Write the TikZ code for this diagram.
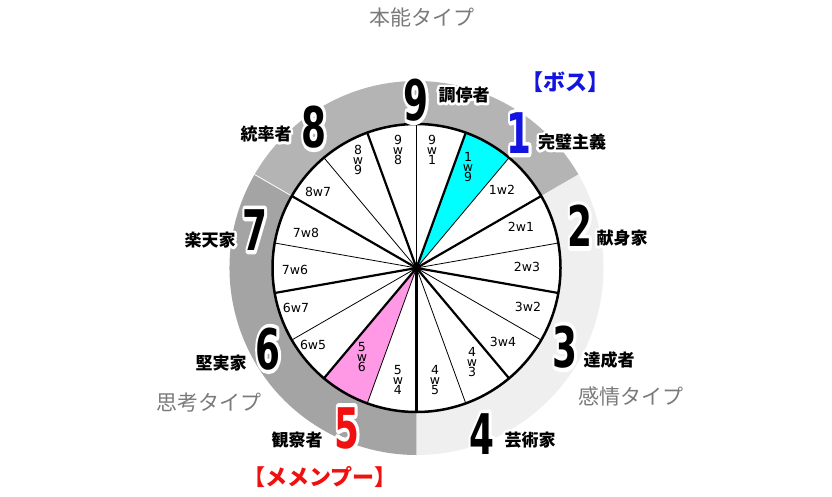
\documentclass[tikz,border=0pt]{standalone}
\usepackage{graphicx}
\usepackage{fontspec}
\usetikzlibrary{positioning}
\newfontfamily\jpfont{Noto Sans CJK JP}
\newfontfamily\wingfont{DejaVu Sans}
\newfontfamily\numfont{DejaVu Sans}
\definecolor{gutgray}{HTML}{B4B4B4}
\definecolor{headgray}{HTML}{A4A4A4}
\definecolor{heartgray}{HTML}{EFEFEF}
\definecolor{winga}{HTML}{00FFFF}
\definecolor{wingb}{HTML}{FF99E6}
\definecolor{bossblue}{HTML}{1414E0}
\definecolor{memred}{HTML}{F01010}
\definecolor{typegray}{HTML}{7A7A7A}

% text with a white outline drawn under it
\newcommand\haloed[2]{\special{pdf:literal direct 1 1 1 RG 1 Tr #1 w 1 j 1 J}\rlap{#2}\special{pdf:literal direct 0 Tr 0 G}#2}

\begin{document}
\begin{tikzpicture}[
			x=1pt, y=1pt,
			num/.style = {font=\numfont\bfseries\fontsize{56}{56}\selectfont, inner sep=0pt},
			role/.style = {font=\jpfont\bfseries\fontsize{17}{17}\selectfont, inner sep=0pt},
			call/.style = {font=\jpfont\bfseries\fontsize{22}{22}\selectfont, inner sep=0pt},
			kind/.style = {font=\jpfont\fontsize{21}{21}\selectfont, text=typegray, inner sep=0pt},
			wing/.style = {font=\wingfont\fontsize{12.5}{10}\selectfont, inner sep=0pt, align=center},
			thickspoke/.style = {line width=2.2pt},
			thinspoke/.style = {line width=0.8pt}
		]
		\useasboundingbox (0,0) rectangle (832,496);
		\coordinate (c) at (416.5,228);
		% Outer ring.
		\fill[gutgray] (c) -- ([shift={(30:187)}]c) arc[start angle=30, end angle=150, radius=187] -- cycle;
		\fill[headgray] (c) -- ([shift={(150:187)}]c) arc[start angle=150, end angle=270, radius=187] -- cycle;
		\fill[heartgray] (c) -- ([shift={(270:187)}]c) arc[start angle=270, end angle=390, radius=187] -- cycle;
		\draw[white, line width=0.8pt] ([shift={(150:144)}]c) -- ([shift={(150:187)}]c);
		% Inner disc.
		\fill[white] (c) circle[radius=144];
		\fill[winga] (c) -- ([shift={(70:144)}]c) arc[start angle=70, end angle=50, radius=144] -- cycle;
		\fill[wingb] (c) -- ([shift={(-110:144)}]c) arc[start angle=-110, end angle=-130, radius=144] -- cycle;
		% Spokes.
		\foreach \a in {70,30,...,-250}
			\draw[thickspoke] (c) -- ([shift={(\a:144)}]c);
		\foreach \a in {90,50,...,-230}
			\draw[thinspoke] (c) -- ([shift={(\a:144)}]c);
		\draw[line width=2.5pt] (c) circle[radius=144];
		% Wings.
		\foreach \a/\r/\t [count=\i] in {42.4/115.7/1w2, 21.4/112.3/2w1, 0.5/110.5/2w3, -19.3/118.1/3w2, -40.5/113.8/3w4, -143.3/129/6w5, -161.6/127/6w7, -179/121.5/7w6, 162.4/115.9/7w8, 142.3/124.4/8w7}
			\node[wing] (h\i) at ([shift={(\a:\r)}]c) {\t};
		\foreach \a/\r/\p/\q [count=\i] in {82.5/119/9/1, 63/113.4/1/9, 98.9/119.4/9/8, 118.4/122.8/8/9, -121.5/104.4/5/6, -99.4/113.5/5/4, -80.6/113.5/4/5, -59.4/109.2/4/3}
			\node[wing] (s\i) at ([shift={(\a:\r)}]c) {\p\\w\\\q};
		% Type numbers.
		\foreach \x/\y/\n/\col in {416/396/9/black, 519/363/1/bossblue, 580/270/2/black, 565/149/3/black, 482/62/4/black, 347/68/5/memred, 268/147/6/black, 255/266/7/black, 314/369/8/black}
			\node[num, text=\col] (n\n) at (\x,\y) {\scalebox{0.64}[1]{\haloed{8}{\n}}};
		% Names.
		\node[role] (r9) at (464,401) {\haloed{5}{調停者}};
		\node[role] (r1) at (572,354) {\haloed{5}{完璧主義}};
		\node[role] (r2) at (622,258) {\haloed{5}{献身家}};
		\node[role] (r3) at (609,136) {\haloed{5}{達成者}};
		\node[role] (r4) at (530,56) {\haloed{5}{芸術家}};
		\node[role] (r5) at (297,56) {\haloed{5}{観察者}};
		\node[role] (r6) at (221,133) {\haloed{5}{堅実家}};
		\node[role] (r7) at (210,256) {\haloed{5}{楽天家}};
		\node[role] (r8) at (266,362) {\haloed{5}{統率者}};
		\node[call, text=bossblue] (boss) at (565,414) {【ボス】};
		\node[call, text=memred] (member) at (320,19) {【メメンプー】};
		% Centres.
		\node[kind] (gut) at (422,478) {本能タイプ};
		\node[kind] (heart) at (631,100) {感情タイプ};
		\node[kind] (head) at (209,93) {思考タイプ};
	\end{tikzpicture}
\end{document}
